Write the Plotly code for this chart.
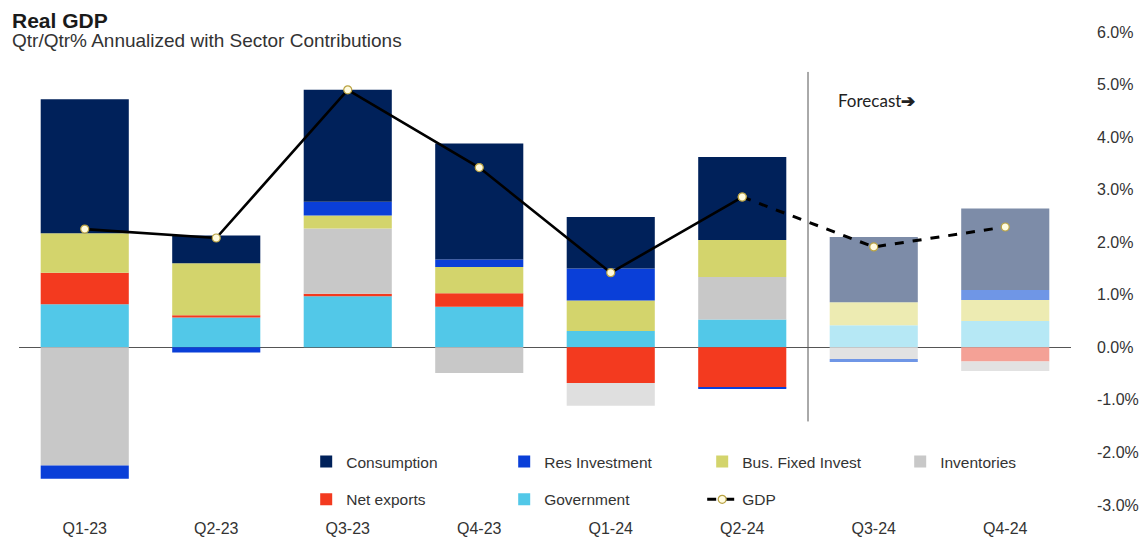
import plotly.graph_objects as go

quarters = ["Q1-23", "Q2-23", "Q3-23", "Q4-23", "Q1-24", "Q2-24", "Q3-24", "Q4-24"]
consumption = [2.55, 0.53, 2.13, 2.21, 0.98, 1.58, 1.24, 1.55]
res_investment = [-0.25, -0.10, 0.26, 0.14, 0.61, -0.03, -0.06, 0.19]
bus_fixed_invest = [0.75, 0.99, 0.25, 0.50, 0.58, 0.70, 0.44, 0.40]
inventories = [-2.25, 0.0, 1.24, -0.49, -0.43, 0.81, -0.22, -0.18]
net_exports = [0.60, 0.04, 0.05, 0.26, -0.68, -0.76, 0.0, -0.27]
government = [0.82, 0.57, 0.97, 0.77, 0.31, 0.53, 0.42, 0.50]
gdp = [2.25, 2.08, 4.90, 3.42, 1.42, 2.86, 1.91, 2.29]
n_actual = 6  # first 6 quarters are actuals, rest forecast

y_ticks = [-3, -2, -1, 0, 1, 2, 3, 4, 5, 6]


def colors(hist, fc, overrides=None):
    c = [hist] * n_actual + [fc] * (len(quarters) - n_actual)
    if overrides:
        for i, v in overrides.items():
            c[i] = v
    return c


SANS = "Liberation Sans, Arial, sans-serif"

fig = go.Figure()

# trace order defines stacking (positives upward, negatives downward)
bar_specs = [
    ("Government", government, "#52C8E8", "#B6E8F5", None, "legend2", 2),
    ("Net exports", net_exports, "#F33A1F", "#F4A196", None, "legend2", 1),
    ("Inventories", inventories, "#C8C8C8", "#E2E2E2", {4: "#DFDFDF"}, "legend", 4),
    ("Bus. Fixed Invest", bus_fixed_invest, "#D3D46C", "#EDEBB2", None, "legend", 3),
    ("Res Investment", res_investment, "#0A3FD8", "#6F96E6", None, "legend", 2),
    ("Consumption", consumption, "#00215A", "#7D8CA8", None, "legend", 1),
]
for name, vals, ch, cf, ov, lg, rank in bar_specs:
    fig.add_trace(go.Bar(
        x=quarters, y=vals, name=name,
        marker=dict(color=colors(ch, cf, ov), line=dict(width=0)),
        legend=lg, legendrank=rank,
    ))

marker_style = dict(size=8, color="#FFFBDF", line=dict(color="#B9A243", width=1.2))
fig.add_trace(go.Scatter(
    x=quarters[:n_actual], y=gdp[:n_actual], mode="lines+markers", name="GDP",
    line=dict(color="#000000", width=2.6), marker=marker_style,
    showlegend=False, legend="legend2",
))
fig.add_trace(go.Scatter(
    x=quarters[n_actual - 1:], y=gdp[n_actual - 1:], mode="lines+markers", name="GDP",
    line=dict(color="#000000", width=3, dash="dash"), marker=marker_style,
    legend="legend2", legendrank=3,
))

# forecast divider
fig.add_shape(type="line", xref="x", yref="y", x0=5.5, x1=5.5, y0=-1.41, y1=5.24,
              line=dict(color="#555555", width=1))
fig.add_annotation(text="Forecast<b>\u2794</b>", xref="paper", yref="y", x=0.7766, y=4.7,
                   xanchor="left", yanchor="middle", showarrow=False,
                   font=dict(family="Lato, Open Sans, sans-serif", size=17, color="#222222"))

# titles
fig.add_annotation(text="<b>Real GDP</b>", xref="paper", yref="paper", x=-0.0086, y=1.024,
                   xanchor="left", yanchor="middle", showarrow=False,
                   font=dict(family=SANS, size=21, color="#1a1a1a"))
fig.add_annotation(text="Qtr/Qtr% Annualized with Sector Contributions", xref="paper", yref="paper",
                   x=-0.0086, y=0.982, xanchor="left", yanchor="middle", showarrow=False,
                   font=dict(family=SANS, size=19, color="#333333"))

legend_common = dict(orientation="h", xanchor="left", yanchor="middle",
                     entrywidth=153, entrywidthmode="pixels",
                     font=dict(family=SANS, size=15.5, color="#333333"),
                     bgcolor="rgba(0,0,0,0)", borderwidth=0, traceorder="normal")

fig.update_layout(
    width=1141, height=539,
    margin=dict(l=19, r=70, t=32, b=34, autoexpand=False),
    paper_bgcolor="white", plot_bgcolor="white",
    barmode="relative", bargap=0.33,
    showlegend=True,
    legend=dict(x=0.273, y=0.091, **legend_common),
    legend2=dict(x=0.273, y=0.011, **legend_common),
    xaxis=dict(showgrid=False, showline=False, ticks="", ticklabelstandoff=12,
               automargin=False,
               tickfont=dict(family=SANS, size=16, color="#333333")),
    yaxis=dict(side="right", range=[-3, 6], tickvals=y_ticks,
               ticktext=[f"{v:.1f}%" for v in y_ticks],
               showgrid=False, showline=False, ticks="", automargin=False,
               zeroline=True, zerolinecolor="#555555", zerolinewidth=1,
               ticklabelstandoff=25,
               tickfont=dict(family=SANS, size=16, color="#333333")),
)

fig.write_html("out.html")
